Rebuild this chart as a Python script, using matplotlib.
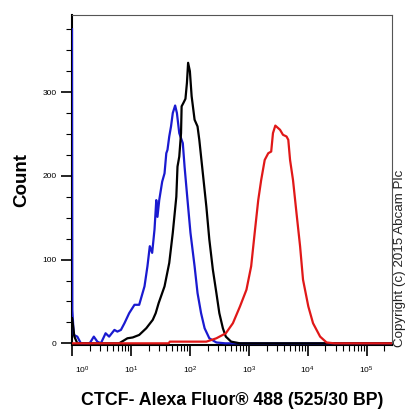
import matplotlib
matplotlib.use("Agg")
import matplotlib.pyplot as plt
import matplotlib.transforms as mtransforms
from matplotlib.ticker import FixedLocator, LogLocator, NullFormatter
import numpy as np

plt.rcParams['font.family'] = ['Liberation Sans', 'DejaVu Sans']
plt.rcParams['mathtext.default'] = 'regular'

# histogram traces: log10(intensity), count
blue_log = [0.0, 0.005, 0.03, 0.09, 0.15, 0.2, 0.3, 0.37, 0.43, 0.49, 0.57, 0.63, 0.72, 0.77,
            0.83, 0.89, 0.97, 1.06, 1.14, 1.23, 1.28, 1.32, 1.36, 1.40, 1.43, 1.45, 1.48,
            1.53, 1.57, 1.60, 1.62, 1.65, 1.68, 1.71, 1.75, 1.78, 1.82, 1.85, 1.88, 1.91,
            1.96, 2.01, 2.08, 2.13, 2.19, 2.25, 2.33, 2.45, 2.6, 5.43]
blue_cnt = [375, 40, 10, 8, 0, 0, 0, 8, 2, 0, 12, 8, 16, 14,
            16, 24, 36, 46, 46, 68, 92, 116, 108, 136, 171, 151, 171,
            193, 203, 227, 231, 247, 259, 275, 284, 275, 251, 245, 239, 211,
            171, 132, 92, 60, 36, 18, 6, 1, 0, 0]

black_log = [0.0, 0.005, 0.04, 0.09, 0.5, 0.80, 0.94, 1.03, 1.14, 1.26, 1.37, 1.42, 1.47, 1.57,
             1.65, 1.71, 1.77, 1.79, 1.82, 1.85, 1.86, 1.89, 1.925, 1.95, 1.97, 2.00,
             2.03, 2.08, 2.13, 2.16, 2.22, 2.28, 2.33, 2.39, 2.45, 2.50, 2.56, 2.61,
             2.70, 2.85, 5.43]
black_cnt = [30, 28, 8, 0, 0, 0, 6, 7, 10, 18, 28, 36, 48, 68,
             96, 132, 175, 211, 223, 251, 283, 287, 292, 311, 335, 325,
             295, 267, 259, 243, 203, 163, 124, 88, 60, 36, 18, 8,
             2, 0, 0]

red_log = [0.0, 1.64, 1.66, 2.1, 2.28, 2.45, 2.61, 2.73, 2.85, 2.96, 3.04, 3.10, 3.16, 3.21,
           3.27, 3.33, 3.38, 3.41, 3.45, 3.53, 3.58, 3.64, 3.67, 3.70, 3.75, 3.81,
           3.87, 3.92, 4.01, 4.09, 4.21, 4.32, 4.45, 5.43]
red_cnt = [0, 0, 2, 2, 2, 6, 12, 24, 44, 64, 92, 132, 171, 195,
           219, 227, 229, 251, 260, 255, 249, 247, 243, 219, 195, 155,
           116, 76, 44, 24, 8, 1, 0, 0]

x_ticks = [1e0, 1e1, 1e2, 1e3, 1e4, 1e5]
x_labels = ['$10^{0}$', '$10^{1}$', '$10^{2}$', '$10^{3}$', '$10^{4}$', '$10^{5}$']
y_ticks = [0, 100, 200, 300]

fig = plt.figure(figsize=(4.08, 4.15), dpi=100)
ax = fig.add_axes([0.1765, 0.1687, 0.7843, 0.795])

ax.plot(10 ** np.array(blue_log), blue_cnt, color='#1a1ad0', lw=1.6, zorder=3)
ax.plot(10 ** np.array(black_log), black_cnt, color='black', lw=1.6, zorder=3)
ax.plot(10 ** np.array(red_log), red_cnt, color='#e01818', lw=1.6, zorder=3)

ax.set_xscale('log')
ax.set_xlim(1, 10 ** 5.43)
ax.set_ylim(-2, 392)

ax.set_xticks(x_ticks)
ax.set_xticklabels(x_labels, fontsize=6)
ax.xaxis.set_minor_locator(LogLocator(base=10, subs=np.arange(2, 10)))
ax.xaxis.set_minor_formatter(NullFormatter())
ax.set_yticks(y_ticks)
ax.set_yticklabels([str(v) for v in y_ticks], fontsize=6)
ax.yaxis.set_minor_locator(FixedLocator(np.arange(0, 392, 25)))

ax.tick_params(axis='both', which='major', direction='out', length=8, width=1.2, pad=3)
ax.tick_params(axis='both', which='minor', direction='out', length=4, width=0.8)
ax.tick_params(axis='x', which='major', pad=6)

# shift first x label to the right as in the original
off = mtransforms.ScaledTranslation(7 / 72, 0, fig.dpi_scale_trans)
lbl0 = ax.get_xticklabels()[0]
lbl0.set_transform(lbl0.get_transform() + off)

ax.spines['left'].set_linewidth(1.5)
ax.spines['bottom'].set_linewidth(1.5)
ax.spines['top'].set_color('#555555')
ax.spines['right'].set_color('#555555')

ax.set_ylabel('Count', fontsize=13.5, fontweight='bold', labelpad=9)
ax.set_xlabel('CTCF- Alexa Fluor\u00ae 488 (525/30 BP)', fontsize=12.8, fontweight='bold', labelpad=12)

fig.text(0.981, 0.163, 'Copyright (c) 2015 Abcam Plc', rotation=90, fontsize=9.6,
         ha='center', va='bottom', color='#222222')

fig.savefig('out.png', dpi=100)
